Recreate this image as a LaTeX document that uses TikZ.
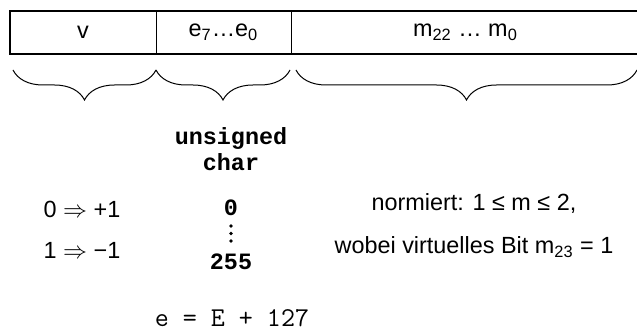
\documentclass[tikz,border=0pt]{standalone}
\usepackage{fontspec}
\setmainfont{Liberation Sans}
\newfontfamily\codefont{Liberation Mono}
\usetikzlibrary{decorations.pathreplacing}

\begin{document}
\begin{tikzpicture}[x=0.5pt, y=-0.5pt]
    \tikzstyle{cell}=[draw,line width=0.5pt,rectangle,minimum height=21.5pt,inner sep=0pt,outer sep=0pt,font=\fontsize{11.7}{14}\selectfont]
    \tikzstyle{label}=[font=\fontsize{11.7}{14}\selectfont,align=center]
    \tikzstyle{code}=[font=\codefont\bfseries\fontsize{11.7}{13}\selectfont,align=center,inner sep=0pt]
    \tikzstyle{bracket}=[draw,line width=0.5pt,decorate,decoration={brace,amplitude=15pt}]

    \useasboundingbox (0,0) rectangle (637,330);

    % the three fields of the float
    \node[cell, minimum width=73pt] (v) at (83, 32.5) {v};
    \node[cell, minimum width=67.5pt] (e) at (223.5, 32.5) {e\textsubscript{7}…e\textsubscript{0}};
    \node[cell, minimum width=174.5pt] (m) at (465.5, 32.5) {m\textsubscript{22} … m\textsubscript{0}};
    \draw[line width=1pt] (v.north west) rectangle (m.south east);

    \coordinate (b1) at (13, 70);
    \coordinate (b2) at (156, 70);
    \coordinate (b3) at (290, 70);
    \coordinate (b4) at (296, 70);
    \coordinate (b5) at (637, 70);
    \path[bracket] (b2) -- (b1);
    \path[bracket] (b3) -- (b2);
    \path[bracket] (b5) -- (b4);

    \node[code] (type) at (231, 149) {unsigned\\char};

    \node[label] (s0) at (82, 209) {0 $\Rightarrow$ +1};
    \node[label] (s1) at (82, 250) {1 $\Rightarrow$ −1};

    \node[code] (e0) at (231, 208) {0};
    \foreach \y in {226, 233.5, 241}
        \fill (231, \y) circle (0.9pt);
    \node[code] (e255) at (231, 262) {255};

    \node[label] (norm) at (474, 204) {normiert: 1 ≤ m ≤ 2,};
    \node[label] (virt) at (474, 247) {wobei virtuelles Bit m\textsubscript{23} = 1};

    \node[font=\ttfamily\fontsize{13.6}{14}\selectfont, inner sep=0pt] (bias) at (232, 318) {e = E + 127};
\end{tikzpicture}
\end{document}
